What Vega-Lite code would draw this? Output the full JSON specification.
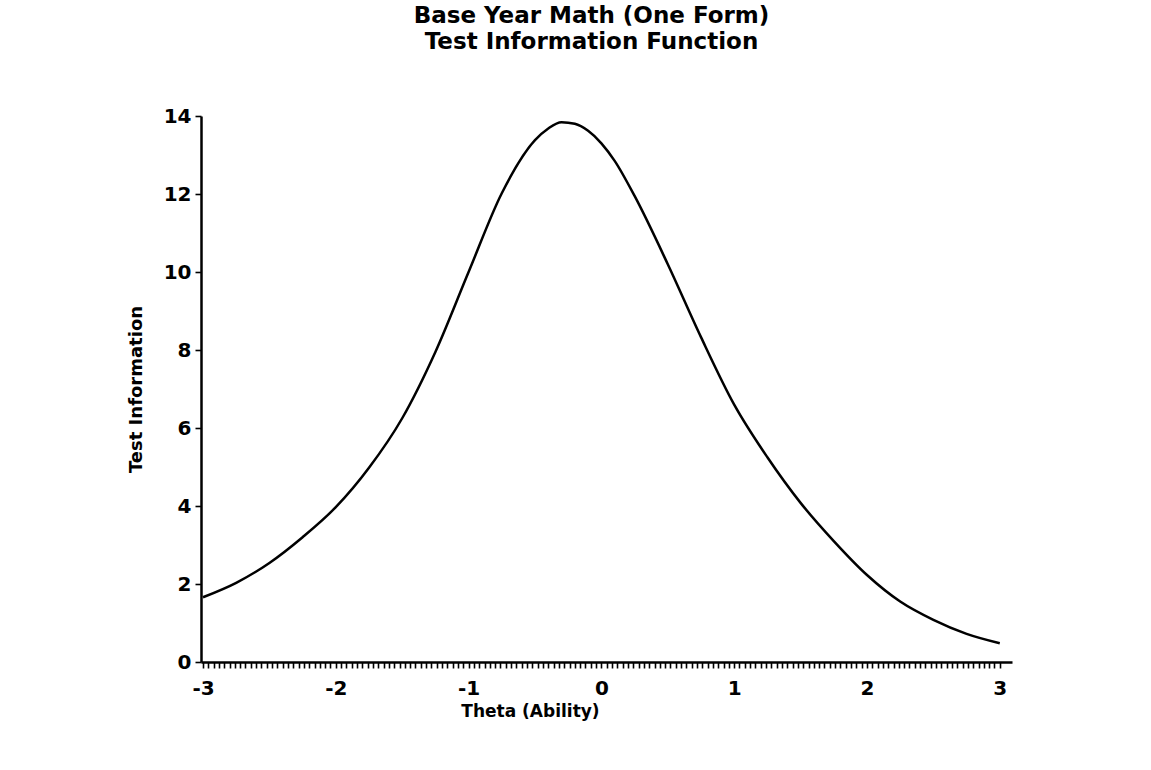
{
  "$schema": "https://vega.github.io/schema/vega-lite/v6.json",
  "width": 811,
  "height": 546,
  "autosize": {"type": "none"},
  "padding": {"left": 201, "top": 116, "right": 139, "bottom": 108},
  "background": "white",
  "config": {"view": {"stroke": null}, "font": "DejaVu Sans"},
  "title": {
    "text": ["Base Year Math (One Form)", "Test Information Function"],
    "font": "DejaVu Sans",
    "fontSize": 23,
    "fontWeight": "bold",
    "lineHeight": 26,
    "color": "black",
    "anchor": "middle",
    "dx": -15,
    "offset": 52
  },
  "data": {
    "values": [
      {"theta": -3.0, "info": 1.66},
      {"theta": -2.75, "info": 2.03},
      {"theta": -2.5, "info": 2.54},
      {"theta": -2.25, "info": 3.2},
      {"theta": -2.0, "info": 3.97},
      {"theta": -1.75, "info": 4.98},
      {"theta": -1.5, "info": 6.25},
      {"theta": -1.25, "info": 7.95},
      {"theta": -1.0, "info": 10.0},
      {"theta": -0.75, "info": 12.02},
      {"theta": -0.5, "info": 13.38},
      {"theta": -0.4, "info": 13.68},
      {"theta": -0.3, "info": 13.84},
      {"theta": -0.2, "info": 13.8},
      {"theta": -0.1, "info": 13.62},
      {"theta": 0.0, "info": 13.3},
      {"theta": 0.1, "info": 12.85},
      {"theta": 0.25, "info": 11.95},
      {"theta": 0.5, "info": 10.2},
      {"theta": 0.75, "info": 8.33},
      {"theta": 1.0, "info": 6.6},
      {"theta": 1.25, "info": 5.25},
      {"theta": 1.5, "info": 4.08},
      {"theta": 1.75, "info": 3.1},
      {"theta": 2.0, "info": 2.23},
      {"theta": 2.25, "info": 1.55},
      {"theta": 2.5, "info": 1.08},
      {"theta": 2.75, "info": 0.72},
      {"theta": 3.0, "info": 0.48}
    ]
  },
  "mark": {"type": "line", "color": "black", "strokeWidth": 2.5, "interpolate": "monotone"},
  "encoding": {
    "x": {
      "field": "theta",
      "type": "quantitative",
      "scale": {"domain": [-3.015, 3.092], "nice": false, "zero": false},
      "axis": {
        "title": "Theta (Ability)",
        "values": [-3,-2.96,-2.92,-2.88,-2.84,-2.8,-2.76,-2.72,-2.68,-2.64,-2.6,-2.56,-2.52,-2.48,-2.44,-2.4,-2.36,-2.32,-2.28,-2.24,-2.2,-2.16,-2.12,-2.08,-2.04,
          -2,-1.96,-1.92,-1.88,-1.84,-1.8,-1.76,-1.72,-1.68,-1.64,-1.6,-1.56,-1.52,-1.48,-1.44,-1.4,-1.36,-1.32,-1.28,-1.24,-1.2,-1.16,-1.12,-1.08,-1.04,
          -1,-0.96,-0.92,-0.88,-0.84,-0.8,-0.76,-0.72,-0.68,-0.64,-0.6,-0.56,-0.52,-0.48,-0.44,-0.4,-0.36,-0.32,-0.28,-0.24,-0.2,-0.16,-0.12,-0.08,-0.04,
          0,0.04,0.08,0.12,0.16,0.2,0.24,0.28,0.32,0.36,0.4,0.44,0.48,0.52,0.56,0.6,0.64,0.68,0.72,0.76,0.8,0.84,0.88,0.92,0.96,
          1,1.04,1.08,1.12,1.16,1.2,1.24,1.28,1.32,1.36,1.4,1.44,1.48,1.52,1.56,1.6,1.64,1.68,1.72,1.76,1.8,1.84,1.88,1.92,1.96,
          2,2.04,2.08,2.12,2.16,2.2,2.24,2.28,2.32,2.36,2.4,2.44,2.48,2.52,2.56,2.6,2.64,2.68,2.72,2.76,2.8,2.84,2.88,2.92,2.96,3],
        "labelExpr": "abs(datum.value - round(datum.value)) < 0.001 ? '' + round(datum.value) : ''",
        "labelOverlap": false,
        "labelFlush": false,
        "labelBound": false,
        "grid": false,
        "domainColor": "black",
        "domainWidth": 2.5,
        "tickColor": "black",
        "tickWidth": 1.6,
        "tickSize": 6,
        "labelFont": "DejaVu Sans",
        "labelFontSize": 20,
        "labelFontWeight": "bold",
        "labelColor": "black",
        "labelPadding": 10,
        "titleFont": "DejaVu Sans",
        "titleFontSize": 17,
        "titleFontWeight": "bold",
        "titleColor": "black",
        "titleX": 329,
        "titleY": 41,
        "titleAlign": "center",
        "titleBaseline": "top"
      }
    },
    "y": {
      "field": "info",
      "type": "quantitative",
      "scale": {"domain": [0, 14], "nice": false},
      "axis": {
        "title": "Test Information",
        "values": [0, 2, 4, 6, 8, 10, 12, 14],
        "grid": false,
        "domainColor": "black",
        "domainWidth": 2.5,
        "tickColor": "black",
        "tickWidth": 1.6,
        "tickSize": 6,
        "labelFont": "DejaVu Sans",
        "labelFontSize": 20,
        "labelFontWeight": "bold",
        "labelColor": "black",
        "labelPadding": 4,
        "titleFont": "DejaVu Sans",
        "titleFontSize": 18,
        "titleFontWeight": "bold",
        "titleColor": "black",
        "titlePadding": 18
      }
    }
  }
}
